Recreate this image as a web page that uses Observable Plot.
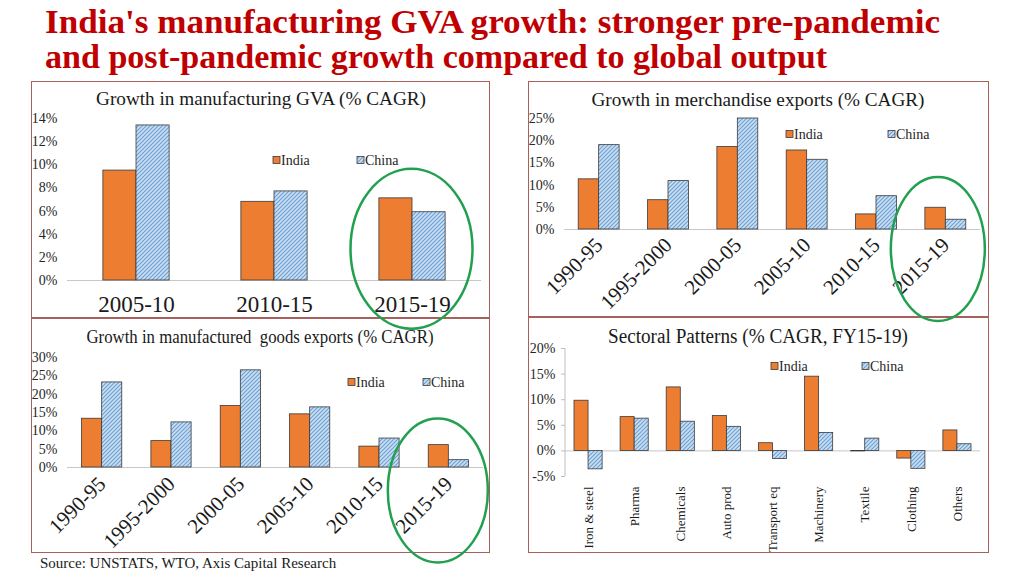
<!DOCTYPE html>
<html><head><meta charset="utf-8">
<script src="https://cdn.jsdelivr.net/npm/d3@7"></script>
<script src="https://cdn.jsdelivr.net/npm/@observablehq/plot@0.6"></script>
<style>
body{margin:0;background:#fff;}
#page{position:relative;width:1024px;height:576px;overflow:hidden;font-family:"Liberation Serif","Times New Roman",serif;background:#fff;}
.panel{position:absolute;border:1px solid #a8605c;box-sizing:border-box;}
svg.chart{position:absolute;overflow:visible;background:transparent;}
svg.chart g[aria-label^="y-axis"] line, svg.chart g[aria-label^="y-axis"] path{stroke:#bfbfbf;}
#overlay{position:absolute;left:0;top:0;pointer-events:none;}
</style></head>
<body>
<div id="page">
<svg width="0" height="0" style="position:absolute">
  <defs>
    <pattern id="hatch" patternUnits="userSpaceOnUse" width="4" height="4">
      <rect width="4" height="4" fill="#c9def2"></rect>
      <path d="M-1,1 l2,-2 M0,4 l4,-4 M3,5 l2,-2" stroke="#6c9fd3" stroke-width="1.1"></path>
    </pattern>
  </defs>
</svg>
</div>
<script>
// ---------- data ----------
const series = ["India", "China"];
const gvaPeriods = ["2005-10", "2010-15", "2015-19"];
const gvaIndia = [9.5, 6.8, 7.1];
const gvaChina = [13.4, 7.7, 5.9];
const gvaTicks = [0, 2, 4, 6, 8, 10, 12, 14];

const merchPeriods = ["1990-95", "1995-2000", "2000-05", "2005-10", "2010-15", "2015-19"];
const merchIndia = [11.3, 6.6, 18.6, 17.8, 3.4, 4.9];
const merchChina = [19.0, 10.9, 25.0, 15.7, 7.5, 2.2];
const merchTicks = [0, 5, 10, 15, 20, 25];

const mfgPeriods = ["1990-95", "1995-2000", "2000-05", "2005-10", "2010-15", "2015-19"];
const mfgIndia = [13.3, 7.2, 16.8, 14.5, 5.7, 6.1];
const mfgChina = [23.2, 12.3, 26.5, 16.4, 7.9, 2.0];
const mfgTicks = [0, 5, 10, 15, 20, 25, 30];

const sectors = ["Iron & steel", "Pharma", "Chemicals", "Auto prod", "Transport eq", "Machinery", "Textile", "Clothing", "Others"];
const sectIndia = [9.8, 6.6, 12.4, 6.8, 1.5, 14.5, -0.1, -1.5, 4.0];
const sectChina = [-3.6, 6.3, 5.7, 4.7, -1.6, 3.5, 2.4, -3.5, 1.3];
const sectTicks = [-5, 0, 5, 10, 15, 20];

const mainTitle = ["India's manufacturing GVA growth: stronger pre-pandemic", "and post-pandemic growth compared to global output"];
const sourceText = "Source: UNSTATS, WTO, Axis Capital Research";

// ---------- styles ----------
const INDIA = "#ed7d31";
const CHINA = "url(#hatch)";
const EDGE = "#3a3a3a";
const GREEN = "#22a04f";
const NS = "http://www.w3.org/2000/svg";
const FONT = "'Liberation Serif','Times New Roman',serif";

function ellipseMark(spec) {
  return (index, scales) => {
    const x = scales.x, y = scales.y;
    let bw = x.bandwidth; bw = typeof bw === "function" ? bw() : (bw || 0);
    const el = document.createElementNS(NS, "ellipse");
    el.setAttribute("cx", x(spec.cat) + bw / 2 + spec.dx);
    el.setAttribute("cy", y(spec.y));
    el.setAttribute("rx", spec.rx);
    el.setAttribute("ry", spec.ry);
    el.setAttribute("fill", "none");
    el.setAttribute("stroke", GREEN);
    el.setAttribute("stroke-width", 2.5);
    return el;
  };
}
function yAxisLine() {
  return (index, scales, values, dims) => {
    const el = document.createElementNS(NS, "line");
    el.setAttribute("x1", dims.marginLeft); el.setAttribute("x2", dims.marginLeft);
    el.setAttribute("y1", dims.marginTop); el.setAttribute("y2", dims.height - dims.marginBottom);
    el.setAttribute("stroke", "#bfbfbf");
    return el;
  };
}

function makePanel(cfg) {
  const [mt, mr, mb, ml] = cfg.margins;
  const data = cfg.cats.map((c, i) => ({cat: c, india: cfg.india[i], china: cfg.china[i]}));
  const bw = (cfg.width - ml - mr) / cfg.cats.length * (1 - cfg.pad);
  const marks = [
    Plot.ruleY([0], {stroke: "#c8c8c8"}),
    Plot.barY(data, {x: "cat", y: "india", fill: INDIA, stroke: EDGE, strokeWidth: 0.8, insetRight: bw / 2}),
    Plot.barY(data, {x: "cat", y: "china", fill: CHINA, stroke: EDGE, strokeWidth: 0.8, insetLeft: bw / 2})
  ];
  if (cfg.axisLine) marks.push(yAxisLine());
  if (cfg.ellipse) marks.push(ellipseMark(cfg.ellipse));
  const svg = Plot.plot({
    width: cfg.width, height: cfg.height,
    marginTop: mt, marginRight: mr, marginBottom: mb, marginLeft: ml,
    style: `font-family:${FONT};font-size:14px;color:#262626;background:transparent;overflow:visible;`,
    x: {domain: cfg.cats, paddingInner: cfg.pad, paddingOuter: cfg.pad / 2, round: false, tickSize: 0, tickPadding: cfg.xPad, tickRotate: cfg.rotate, label: null},
    y: {domain: cfg.yDomain, ticks: cfg.yTicks, tickFormat: d => d + "%", tickSize: cfg.yTickSize, tickPadding: cfg.yPad, label: null},
    marks
  });
  svg.id = cfg.id;
  svg.classList.add("chart");
  svg.setAttribute("font-family", FONT);
  svg.style.position = "absolute";
  svg.style.left = cfg.left + "px";
  svg.style.top = cfg.top + "px";
  svg.style.zIndex = cfg.z;
  // typography of the axis labels
  svg.querySelectorAll('g[aria-label^="x-axis"] text').forEach(t => {
    t.style.fontFamily = FONT; t.style.fontSize = cfg.xFont + "px"; t.style.fill = "#1a1a1a";
  });
  svg.querySelectorAll('g[aria-label^="y-axis"] text').forEach(t => {
    t.style.fontFamily = FONT; t.style.fontSize = "14px"; t.style.fill = "#262626";
  });
  svg.querySelectorAll('g[aria-label^="x-axis"], g[aria-label^="y-axis"]').forEach(g => {
    g.setAttribute("font-family", FONT); g.style.fontFamily = FONT;
  });
  return svg;
}

const page = document.getElementById("page");

// panel borders
const borders = [[31, 81, 459, 237], [528, 81, 461, 236], [31, 318, 459, 235], [528, 317, 461, 236]];
for (const [l, t, w, h] of borders) {
  const d = document.createElement("div");
  d.className = "panel";
  Object.assign(d.style, {left: l + "px", top: t + "px", width: w + "px", height: h + "px"});
  page.appendChild(d);
}

const panels = [
  {id: "p3", left: 31, top: 318, width: 459, height: 235, margins: [39, 7, 86, 36], z: 1,
   cats: mfgPeriods, india: mfgIndia, china: mfgChina, yDomain: [0, 30], yTicks: mfgTicks,
   pad: 0.42, xPad: 13, xFont: 21, rotate: -45, yTickSize: 0, yPad: 10,
   ellipse: {cat: "2015-19", dx: -10.5, y: -6.4, rx: 50, ry: 72}},
  {id: "p4", left: 528, top: 317, width: 461, height: 236, margins: [31, 9, 77, 37], z: 2,
   cats: sectors, india: sectIndia, china: sectChina, yDomain: [-5, 20], yTicks: sectTicks,
   pad: 0.39, xPad: 10, xFont: 13, rotate: -90, yTickSize: 4, yPad: 6, axisLine: true},
  {id: "p1", left: 31, top: 81, width: 459, height: 237, margins: [37, 9, 38, 36], z: 3,
   cats: gvaPeriods, india: gvaIndia, china: gvaChina, yDomain: [0, 14], yTicks: gvaTicks,
   pad: 0.52, xPad: 15, xFont: 23, rotate: 0, yTickSize: 0, yPad: 10,
   ellipse: {cat: "2015-19", dx: -0.5, y: 2.7, rx: 61, ry: 80}},
  {id: "p2", left: 528, top: 81, width: 461, height: 236, margins: [37, 9, 88, 36], z: 4,
   cats: merchPeriods, india: merchIndia, china: merchChina, yDomain: [0, 25], yTicks: merchTicks,
   pad: 0.41, xPad: 12, xFont: 21, rotate: -45, yTickSize: 0, yPad: 10,
   ellipse: {cat: "2015-19", dx: -7.5, y: -4.5, rx: 47, ry: 72}}
];
for (const cfg of panels) page.appendChild(makePanel(cfg));

// overlay: titles, legends, source
const ov = document.createElementNS(NS, "svg");
ov.id = "overlay";
ov.setAttribute("width", 1024); ov.setAttribute("height", 576);
ov.style.zIndex = 10;
page.appendChild(ov);
function text(str, x, y, opts) {
  const t = document.createElementNS(NS, "text");
  t.textContent = str;
  t.setAttribute("x", x); t.setAttribute("y", y);
  t.setAttribute("font-family", FONT);
  t.style.fontFamily = FONT;
  for (const k in opts) t.setAttribute(k, opts[k]);
  ov.appendChild(t);
  return t;
}
text(mainTitle[0], 45, 33, {"font-size": 33, "font-weight": "bold", fill: "#c00000", textLength: 895, lengthAdjust: "spacingAndGlyphs"});
text(mainTitle[1], 45, 68, {"font-size": 33, "font-weight": "bold", fill: "#c00000", textLength: 782, lengthAdjust: "spacingAndGlyphs"});

const panelTitles = [
  ["Growth in manufacturing GVA (% CAGR)", 261, 105, 19, 330],
  ["Growth in merchandise exports (% CAGR)", 758, 106, 19, 333],
  ["Growth in manufactured  goods exports (% CAGR)", 260, 343, 18, 347],
  ["Sectoral Patterns (% CAGR, FY15-19)", 758, 343, 20, 300]
];
for (const [s, x, y, fs, len] of panelTitles) {
  const t = text(s, x, y, {"font-size": fs, fill: "#1a1a1a", "text-anchor": "middle", textLength: len, lengthAdjust: "spacingAndGlyphs"});
  t.setAttribute("xml:space", "preserve");
  t.style.whiteSpace = "pre";
}

const legends = [[273, 357, 160], [786, 888, 134], [348, 423, 382], [771, 862, 366]];
for (const [xi, xc, cy] of legends) {
  [xi, xc].forEach((x, i) => {
    const r = document.createElementNS(NS, "rect");
    r.setAttribute("x", x); r.setAttribute("y", cy - 3.5);
    r.setAttribute("width", 7); r.setAttribute("height", 7);
    r.setAttribute("fill", i === 0 ? INDIA : CHINA);
    r.setAttribute("stroke", EDGE); r.setAttribute("stroke-width", 0.8);
    ov.appendChild(r);
    text(series[i], x + 8, cy + 5, {"font-size": 14, fill: "#262626"});
  });
}
text(sourceText, 40, 568, {"font-size": 15, fill: "#1a1a1a"});
</script>
</body></html>
